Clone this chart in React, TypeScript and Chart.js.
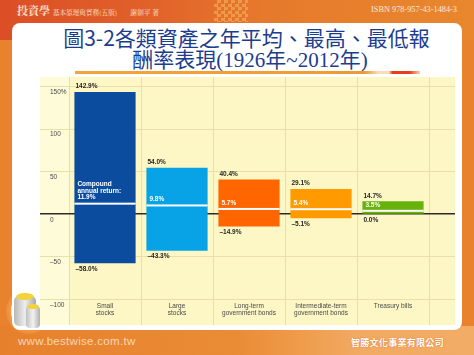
import React, { useEffect, useRef } from "react";
import { Chart, registerables } from "chart.js";

Chart.register(...registerables);

const categories: string[][] = [
  ["Small", "stocks"],
  ["Large", "stocks"],
  ["Long-term", "government bonds"],
  ["Intermediate-term", "government bonds"],
  ["Treasury bills"],
];
const maxReturns = [142.9, 54.0, 40.4, 29.1, 14.7];
const minReturns = [-58.0, -43.3, -14.9, -5.1, 0.0];
const avgReturns = [11.9, 9.8, 5.7, 5.4, 3.5];
const avgPrefix = ["Compound", "annual return:"];
const barColors = ["#0C4C9E", "#08A3E6", "#FF6600", "#FF9A00", "#68B20C"];
const yTicks = [-100, -50, 0, 50, 100, 150];
const yTickLabels = ["–100", "–50", "0", "50", "100", "150%"];

const FONT = '"Liberation Sans", Arial, sans-serif';

const fmt = (v: number) => (v < 0 ? "–" + Math.abs(v).toFixed(1) : v.toFixed(1)) + "%";

const decoPlugin = {
  id: "deco",
  beforeDraw(chart: any) {
    const { ctx, width, height, chartArea } = chart;
    const y = chart.scales.y;
    ctx.save();
    ctx.fillStyle = "#FCF7C4";
    ctx.fillRect(0, 0, width, height);
    ctx.fillStyle = "#FEFBD8";
    ctx.fillRect(0, 0, chartArea.left, height);
    ctx.strokeStyle = "#E8E0A6";
    ctx.lineWidth = 1;
    yTicks.forEach((v) => {
      if (v === 0) return;
      const py = Math.round(y.getPixelForValue(v)) + 0.5;
      ctx.beginPath();
      ctx.moveTo(0, py);
      ctx.lineTo(width, py);
      ctx.stroke();
    });
    const n = categories.length;
    const step = (chartArea.right - chartArea.left) / n;
    for (let i = 0; i <= n; i++) {
      const px = Math.round(chartArea.left + i * step) + 0.5;
      ctx.beginPath();
      ctx.moveTo(px, 0);
      ctx.lineTo(px, height);
      ctx.stroke();
    }
    ctx.restore();
  },
  beforeDatasetsDraw(chart: any) {
    const { ctx, width } = chart;
    const y0 = chart.scales.y.getPixelForValue(0);
    ctx.save();
    ctx.strokeStyle = "#2b2b2b";
    ctx.lineWidth = 1.5;
    ctx.beginPath();
    ctx.moveTo(0, y0);
    ctx.lineTo(width, y0);
    ctx.stroke();
    ctx.restore();
  },
  afterDatasetsDraw(chart: any) {
    const { ctx } = chart;
    const y = chart.scales.y;
    const meta = chart.getDatasetMeta(0);
    ctx.save();
    ctx.font = "bold 6.5px " + FONT;
    ctx.textAlign = "left";
    ctx.textBaseline = "middle";
    meta.data.forEach((bar: any, i: number) => {
      const { x, width } = bar.getProps(["x", "width"], true);
      const left = x - width / 2;
      const yAvg = y.getPixelForValue(avgReturns[i]);
      ctx.fillStyle = "#ffffff";
      ctx.fillRect(left, yAvg - 1, width, 2);
      const yMax = y.getPixelForValue(maxReturns[i]);
      const yMin = y.getPixelForValue(minReturns[i]);
      ctx.fillStyle = "#262626";
      ctx.fillText(fmt(maxReturns[i]), left + 1, yMax - 5.5);
      ctx.fillText(fmt(minReturns[i]), left + 1, yMin + 6);
      ctx.fillStyle = "#ffffff";
      const lines = i === 0 ? [...avgPrefix, fmt(avgReturns[i])] : [fmt(avgReturns[i])];
      lines.forEach((t, k) => {
        ctx.fillText(t, left + 3, yAvg - 6 - (lines.length - 1 - k) * 6.7);
      });
    });
    ctx.restore();
  },
};

function ChartBox() {
  const ref = useRef<HTMLCanvasElement | null>(null);
  useEffect(() => {
    if (!ref.current) return;
    const chart = new Chart(ref.current, {
      type: "bar",
      data: {
        labels: categories,
        datasets: [
          {
            data: minReturns.map((m, i) => [m, maxReturns[i]]) as any,
            backgroundColor: barColors,
            borderWidth: 0,
            barPercentage: 0.85,
            categoryPercentage: 1,
          },
        ],
      },
      options: {
        responsive: false,
        animation: false,
        devicePixelRatio: 1,
        layout: { padding: { top: 9, left: 10, right: 26, bottom: 0 } },
        plugins: { legend: { display: false }, tooltip: { enabled: false } },
        scales: {
          x: {
            grid: { display: false },
            border: { display: false },
            ticks: {
              font: { family: FONT, size: 6.5, lineHeight: 1.05 },
              color: "#4a4a4a",
              padding: -4,
              maxRotation: 0,
              autoSkip: false,
            },
            afterFit: (s: any) => {
              s.height = 26;
            },
          },
          y: {
            min: -100,
            max: 150,
            grid: { display: false },
            border: { display: false },
            afterBuildTicks: (s: any) => {
              s.ticks = yTicks.map((v) => ({ value: v }));
            },
            afterFit: (s: any) => {
              s.width = 19;
            },
            ticks: {
              font: { family: FONT, size: 6.5 },
              color: "#4a4a4a",
              crossAlign: "far",
              padding: 0,
              labelOffset: 6,
              callback: (v: any) => yTickLabels[yTicks.indexOf(Number(v))],
            },
          },
        },
      },
      plugins: [decoPlugin],
    });
    return () => chart.destroy();
  }, []);
  return (
    <canvas
      ref={ref}
      width={415}
      height={248}
      style={{ position: "absolute", left: 40, top: 77, width: 415, height: 248 }}
    />
  );
}

export default function App() {
  return (
    <div
      style={{
        position: "absolute",
        left: 0,
        top: 0,
        width: 474,
        height: 355,
        overflow: "hidden",
        background: "#E8822D",
      }}
    >
      {/* top band */}
      <div
        style={{
          position: "absolute",
          left: 0,
          top: 0,
          width: 474,
          height: 40,
          background: "linear-gradient(90deg, #DC4E26 0%, #E1602A 30%, #E6792C 55%, #E8872E 100%)",
        }}
      />
      <div
        style={{
          position: "absolute",
          left: 214,
          top: 0,
          width: 34,
          height: 22,
          opacity: 0.55,
          background: "repeating-conic-gradient(#F6B860 0 25%, transparent 0 50%) 0 0/7px 7px",
        }}
      />
      <div
        style={{
          position: "absolute",
          left: 17,
          top: 3,
          color: "#FBE2CF",
          fontFamily: '"Noto Serif CJK TC", "Noto Sans CJK TC", serif',
          fontSize: 11,
          lineHeight: "14px",
          whiteSpace: "nowrap",
        }}
      >
        <span style={{ fontWeight: 700 }}>投資學</span>
        <span style={{ fontSize: 6.6, marginLeft: 3 }}>基本原理與實務(五版)</span>
        <span style={{ fontSize: 6.8, marginLeft: 13 }}>謝劍平 著</span>
      </div>
      <div
        style={{
          position: "absolute",
          right: 17,
          top: 5,
          color: "#FCE9D9",
          fontFamily: '"Liberation Serif", "Times New Roman", serif',
          fontSize: 8.3,
          lineHeight: "10px",
          whiteSpace: "nowrap",
        }}
      >
        ISBN 978-957-43-1484-3
      </div>
      {/* bottom band */}
      <div
        style={{
          position: "absolute",
          left: 0,
          top: 326,
          width: 474,
          height: 29,
          background: "linear-gradient(90deg, #E7802C 0%, #EA8C36 50%, #EE9A48 62%, #F2A962 75%, #F3AC66 100%)",
        }}
      />
      <div
        style={{
          position: "absolute",
          left: 6,
          top: 288,
          width: 46,
          height: 46,
          borderRadius: "50%",
          background: "radial-gradient(circle, #FBE4CB 0 55%, #F29A48 57%, #EE8A36 72%, rgba(232,130,45,0) 74%)",
        }}
      />
      {/* card */}
      <div
        style={{
          position: "absolute",
          left: 12,
          top: 23,
          width: 450,
          height: 307,
          borderRadius: 8,
          background: "#ffffff",
        }}
      />
      {/* coins */}
      <div style={{ position: "absolute", left: 14, top: 296, width: 22, height: 30, borderRadius: 5, background: "linear-gradient(90deg,#B8B8B8,#EDEDED 50%,#A8A8A8)" }} />
      <div style={{ position: "absolute", left: 16, top: 293, width: 18, height: 7, borderRadius: "50%", background: "#F3D23A" }} />
      <div style={{ position: "absolute", left: 26, top: 306, width: 14, height: 22, borderRadius: 4, background: "linear-gradient(90deg,#C0C0C0,#F2F2F2 50%,#B0B0B0)" }} />
      <div style={{ position: "absolute", left: 27, top: 304, width: 12, height: 5, borderRadius: "50%", background: "#F3D23A" }} />
      {/* title */}
      <div
        style={{
          position: "absolute",
          left: 0,
          width: 493,
          top: 26,
          textAlign: "center",
          color: "#1C3D8E",
          fontFamily: '"Noto Sans CJK TC", sans-serif',
          fontSize: 21,
          lineHeight: "23px",
          whiteSpace: "nowrap",
        }}
      >
        圖3-2各類資產之年平均、最高、最低報
      </div>
      <div
        style={{
          position: "absolute",
          left: 0,
          width: 500,
          top: 49,
          textAlign: "center",
          color: "#1C3D8E",
          fontFamily: '"Liberation Serif", "Noto Sans CJK TC", serif',
          fontSize: 21,
          lineHeight: "23px",
          whiteSpace: "nowrap",
        }}
      >
        酬率表現(1926年~2012年)
      </div>
      <div
        style={{
          position: "absolute",
          left: 75,
          top: 71,
          width: 345,
          height: 3,
          background:
            "linear-gradient(90deg, #F2A53C 0%, #EE9A32 84%, #F8DDBA 88%, #F8DDBA 91%, #E6401A 92%, #E6401A 97%, #F8D4AC 100%)",
        }}
      />
      <ChartBox />
      {/* footer text */}
      <div
        style={{
          position: "absolute",
          left: 18,
          top: 334,
          color: "#FAD6B2",
          fontFamily: '"Liberation Sans", Arial, sans-serif',
          fontSize: 11.5,
          lineHeight: "14px",
          letterSpacing: 0.3,
          whiteSpace: "nowrap",
        }}
      >
        www.bestwise.com.tw
      </div>
      <div
        style={{
          position: "absolute",
          left: 351,
          top: 336,
          color: "#ffffff",
          fontFamily: '"Noto Sans CJK TC", sans-serif',
          fontWeight: 700,
          fontSize: 9.2,
          lineHeight: "13px",
          letterSpacing: 0.1,
          whiteSpace: "nowrap",
          textShadow: "0 0 1px #D8742A, 0 0 1px #D8742A",
        }}
      >
        智勝文化事業有限公司
      </div>
    </div>
  );
}
